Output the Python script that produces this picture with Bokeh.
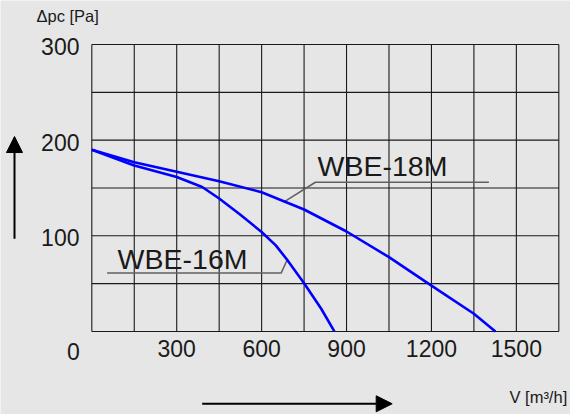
from bokeh.plotting import figure
from bokeh.models import Range1d, Arrow, NormalHead
from bokeh.embed import file_html
from bokeh.resources import INLINE
from bokeh.core.properties import value

# ---- data ----
flow_16m = [0, 150, 300, 390, 450, 525, 600, 650, 690, 750, 810, 857]
pres_16m = [190, 173.5, 161.5, 151, 139, 122, 104, 90, 75, 50.5, 24, 0]
flow_18m = [0, 150, 300, 450, 600, 750, 900, 1050, 1200, 1350, 1426]
pres_18m = [190, 177, 167, 157, 145.6, 127.5, 104.5, 77.7, 48, 18.5, 0]

series_names = ["WBE-16M", "WBE-18M"]
x_tick_values = [300, 600, 900, 1200, 1500]
y_tick_values = [100, 200, 300]
x_grid_values = list(range(0, 1651, 150))
y_grid_values = list(range(0, 301, 50))
y_title = "Δpc [Pa]"
x_title = "V [m³/h]"

BG = "#e6e6e6"
INK = "#1a1a1a"
FONT = "Liberation Sans"
X_MAX = x_grid_values[-1]
Y_MAX = y_grid_values[-1]

# The whole canvas is the data frame; the chart box spans 0..1650 x 0..300.
p = figure(width=570, height=414, output_backend="svg", toolbar_location=None,
           x_range=Range1d(-322.6, 1691.3), y_range=Range1d(-86.8, 346.0),
           min_border=0)
p.title.visible = False
p.axis.visible = False
p.grid.visible = False
p.background_fill_color = BG
p.border_fill_color = BG
p.outline_line_color = None

# grid + frame
nx = len(x_grid_values)
ny = len(y_grid_values)
p.segment(x0=x_grid_values, y0=[0] * nx, x1=x_grid_values, y1=[Y_MAX] * nx,
          line_color=INK, line_width=1.1)
p.segment(x0=[0] * ny, y0=y_grid_values, x1=[X_MAX] * ny, y1=y_grid_values,
          line_color=INK, line_width=1.1)

# tick labels
p.text(x=x_tick_values, y=[-18.1] * len(x_tick_values), text=[str(v) for v in x_tick_values],
       text_align="center", text_baseline="middle", text_font=value(FONT),
       text_font_size="23px", text_color=INK)
p.text(x=[-43.5] * len(y_tick_values), y=y_tick_values, y_offset=2,
       text=[str(v) for v in y_tick_values],
       text_align="right", text_baseline="middle", text_font=value(FONT),
       text_font_size="23px", text_color=INK)
p.text(x=[-42.4], y=[-20.9], text=["0"], text_align="right", text_baseline="middle",
       text_font=value(FONT), text_font_size="23px", text_color=INK)

# axis titles
p.text(x=[-195.4], y=[330.3], text=[y_title], text_align="left", text_baseline="middle",
       text_font=value(FONT), text_font_size="16.5px", text_color=INK)
p.text(x=[1679.7], y=[-68.0], text=[x_title], text_align="right", text_baseline="middle",
       text_font=value(FONT), text_font_size="16.5px", text_color=INK)

# leader lines for labels
p.line([54, 669, 692], [61, 61, 76], line_color="#606060", line_width=1.5)
p.line([678, 790, 1403], [135.2, 156, 156], line_color="#606060", line_width=1.5)

# curves
p.line(flow_16m, pres_16m, line_color="#0000ff", line_width=2.6)
p.line(flow_18m, pres_18m, line_color="#0000ff", line_width=2.6)

# curve labels
p.text(x=[320.6, 1027], y=[75.6, 172.5], text=series_names, text_align="center",
       text_baseline="middle", text_font=value(FONT), text_font_size="28.5px",
       text_color=INK)

# direction arrows
p.add_layout(Arrow(end=NormalHead(size=16, fill_color="black", line_color="black"),
                   x_start=-273.1, y_start=96.9, x_end=-273.1, y_end=203.8,
                   line_color="black", line_width=2))
p.add_layout(Arrow(end=NormalHead(size=16, fill_color="black", line_color="black"),
                   x_start=390, y_start=-75.6, x_end=1061.3, y_end=-75.6,
                   line_color="black", line_width=2))

html = file_html(p, INLINE)
open("out.html", "w").write(html)
